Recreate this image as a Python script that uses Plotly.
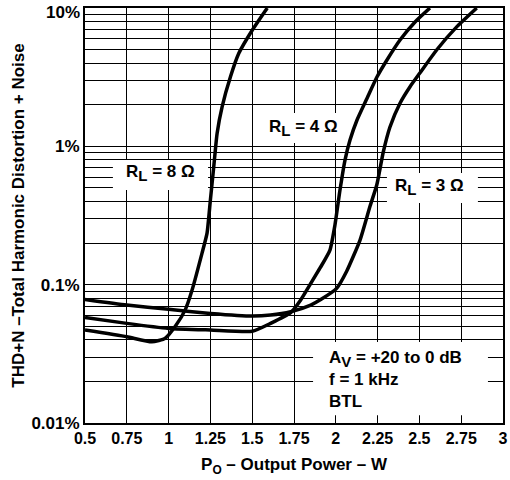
import plotly.graph_objects as go

# Data (THD+N in percent vs output power in W)
rl8_x = [0.5, 0.75, 0.9, 0.98, 1.04, 1.1, 1.14, 1.2, 1.23, 1.25, 1.27, 1.29, 1.32, 1.37, 1.42, 1.5, 1.59]
rl8_y = [0.047, 0.042, 0.0386, 0.041, 0.050, 0.066, 0.091, 0.169, 0.236, 0.41, 0.71, 1.24, 1.93, 3.18, 4.7, 6.9, 10]

rl4_x = [0.5, 0.75, 1.0, 1.25, 1.5, 1.61, 1.73, 1.79, 1.85, 1.906, 1.965, 1.995, 2.025, 2.055, 2.085,
         2.127, 2.187, 2.246, 2.306, 2.384, 2.474, 2.563]
rl4_y = [0.058, 0.0525, 0.0483, 0.047, 0.046, 0.0525, 0.0627, 0.0775, 0.102, 0.132, 0.178, 0.270, 0.483,
         0.796, 1.11, 1.55, 2.23, 3.17, 4.21, 5.87, 7.93, 10]

rl3_x = [0.5, 0.75, 1.0, 1.25, 1.5, 1.61, 1.73, 1.85, 1.91, 2.005, 2.065, 2.145, 2.205, 2.245, 2.284,
         2.324, 2.384, 2.444, 2.504, 2.603, 2.723, 2.843]
rl3_y = [0.0783, 0.0713, 0.0663, 0.062, 0.0593, 0.0603, 0.0637, 0.0712, 0.078, 0.094, 0.125, 0.21,
         0.37, 0.525, 0.91, 1.38, 2.05, 2.7, 3.4, 4.97, 7.30, 10]

x_ticks = [0.5, 0.75, 1, 1.25, 1.5, 1.75, 2, 2.25, 2.5, 2.75, 3]
x_tick_labels = ["0.5", "0.75", "1", "1.25", "1.5", "1.75", "2", "2.25", "2.5", "2.75", "3"]
y_decades = [0.01, 0.1, 1, 10]
y_decade_labels = ["0.01%", "0.1%", "1%", "10%"]

FONT = "Liberation Sans, Arial, Helvetica, sans-serif"

y_grid = []
y_text = []
for d in [0.01, 0.1, 1]:
    for m in range(1, 10):
        v = round(d * m, 6)
        y_grid.append(v)
        y_text.append(y_decade_labels[y_decades.index(d)] if m == 1 else "")
y_grid.append(10)
y_text.append("")  # top label drawn as annotation, nudged down like the original

fig = go.Figure()
for xs, ys in [(rl8_x, rl8_y), (rl4_x, rl4_y), (rl3_x, rl3_y)]:
    fig.add_trace(go.Scatter(x=xs, y=ys, mode="lines",
                             line=dict(color="black", width=3.5, shape="spline", smoothing=0.5),
                             showlegend=False, hoverinfo="skip"))

# white label backgrounds (cover grid, under curves) - data values on the log axis
boxes = [
    (0.667, 1.236, 0.483, 0.796),
    (1.559, 2.055, 1.057, 1.742),
    (2.306, 2.850, 0.389, 0.641),
    (1.864, 2.910, 0.0114, 0.0385),
]
for x0, x1, y0, y1 in boxes:
    fig.add_shape(type="rect", xref="x", yref="y", x0=x0, x1=x1, y0=y0, y1=y1,
                  fillcolor="white", line=dict(width=0), layer="between")

lab_font = dict(family=FONT, size=17, color="black", weight="bold")
SUB = '<sub><span style="font-size:15px">%s</span></sub>'
fig.add_annotation(x=0.949, y=-0.193, text="R" + SUB % "L" + " = 8 Ω", showarrow=False, font=lab_font)
fig.add_annotation(x=1.804, y=0.132, text="R" + SUB % "L" + " = 4 Ω", showarrow=False, font=lab_font)
fig.add_annotation(x=2.563, y=-0.294, text="R" + SUB % "L" + " = 3 Ω", showarrow=False, font=lab_font)
fig.add_annotation(x=1.947, y=-1.683, xanchor="left", align="left",
                   text="A" + SUB % "V" + " = +20 to 0 dB<br>f = 1 kHz<br>BTL",
                   showarrow=False, font=lab_font)
fig.add_annotation(xref="paper", x=0, y=1, xanchor="right", yanchor="middle",
                   xshift=-3, yshift=-4, text=y_decade_labels[-1], showarrow=False,
                   font=dict(family=FONT, size=17, color="black", weight="bold"))

fig.update_layout(
    width=510, height=480,
    margin=dict(l=85, r=7, t=8, b=57),
    paper_bgcolor="white", plot_bgcolor="white",
    font=dict(family=FONT, color="black"),
    xaxis=dict(
        range=[0.5, 3], tickvals=x_ticks, ticktext=x_tick_labels,
        showgrid=True, gridcolor="black", gridwidth=1.2,
        showline=True, linecolor="black", linewidth=2, mirror=True,
        ticks="", zeroline=False, automargin=False, ticklabeloverflow="allow",
        tickfont=dict(family=FONT, size=16, color="black", weight="bold"),
        title=dict(text="P<sub>O</sub> – Output Power – W", standoff=12,
                   font=dict(family=FONT, size=17, color="black", weight="bold")),
    ),
    yaxis=dict(
        type="log", range=[-2, 1], tickvals=y_grid, ticktext=y_text,
        showgrid=True, gridcolor="black", gridwidth=1.2,
        showline=True, linecolor="black", linewidth=2, mirror=True,
        ticks="", zeroline=False, automargin=False, ticklabeloverflow="allow",
        tickfont=dict(family=FONT, size=17, color="black", weight="bold"),
        title=dict(text="THD+N –Total Harmonic Distortion + Noise", standoff=2,
                   font=dict(family=FONT, size=17, color="black", weight="bold")),
    ),
)

fig.write_html("out.html", config={"displayModeBar": False},
               post_script="document.body.style.margin='0';")
